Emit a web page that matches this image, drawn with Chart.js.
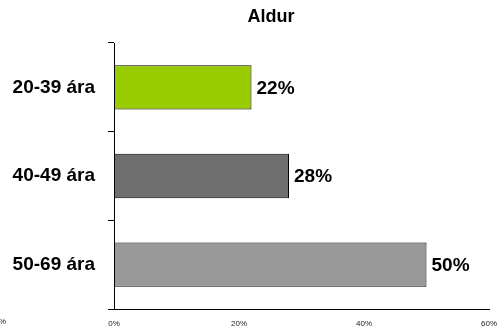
<!DOCTYPE html>
<html>
<head>
<meta charset="utf-8">
<script src="https://cdn.jsdelivr.net/npm/chart.js@4.4.1/dist/chart.umd.min.js"></script>
<style>
  html, body { margin: 0; padding: 0; background: #fff; }
  #wrap { width: 497px; height: 330px; position: relative; }
</style>
</head>
<body>
<div id="wrap"><canvas id="ageChart"></canvas></div>
<script>
const categories = ['20-39 ára', '40-49 ára', '50-69 ára'];
const values = [22, 28, 50];
const barColors = ['#99cc00', '#6e6e6e', '#999999'];
const xTicks = [0, 20, 40, 60];
const chartTitle = 'Aldur';

const fam = '"Liberation Sans", Arial, sans-serif';

// title, value labels and the stray clipped tick text
const extras = {
  id: 'extras',
  afterDatasetsDraw(chart) {
    const ctx = chart.ctx;
    ctx.save();
    ctx.fillStyle = '#000';
    ctx.font = 'bold 18px ' + fam;
    ctx.textAlign = 'center';
    ctx.textBaseline = 'middle';
    ctx.fillText(chartTitle, 271, 17);

    ctx.font = 'bold 19px ' + fam;
    ctx.textAlign = 'left';
    chart.getDatasetMeta(0).data.forEach((bar, i) => {
      ctx.fillText(values[i] + '%', bar.x + 5, bar.y + 1);
    });

    ctx.font = '8px ' + fam;
    ctx.fillStyle = '#222';
    ctx.fillText('%', -1, 322);
    ctx.restore();
  }
};

new Chart(document.getElementById('ageChart'), {
  type: 'bar',
  data: {
    labels: categories,
    datasets: [{
      data: values,
      backgroundColor: barColors,
      borderColor: '#000',
      borderWidth: 1,
      borderSkipped: false,
      categoryPercentage: 0.5,
      barPercentage: 1
    }]
  },
  options: {
    indexAxis: 'y',
    responsive: true,
    maintainAspectRatio: false,
    animation: false,
    layout: { padding: { top: 43, right: 8, left: 0, bottom: 0 } },
    plugins: {
      legend: { display: false },
      tooltip: { enabled: false }
    },
    scales: {
      x: {
        min: 0,
        max: 60,
        afterBuildTicks(axis) { axis.ticks = xTicks.map(v => ({ value: v })); },
        afterFit(axis) {
          axis.height = 21;
          axis.paddingLeft = 0;
          axis.paddingRight = 0;
        },
        grid: { display: false },
        border: { display: true, color: '#000', width: 1 },
        ticks: {
          callback: v => v + '%',
          color: '#222',
          font: { family: fam, size: 8 },
          padding: 2,
          maxRotation: 0
        }
      },
      y: {
        offset: true,
        afterFit(axis) {
          axis.width = 114;
          axis.paddingTop = 0;
          axis.paddingBottom = 0;
        },
        grid: {
          offset: true,
          drawOnChartArea: false,
          drawTicks: true,
          tickLength: 6,
          color: '#000'
        },
        border: { display: true, color: '#000', width: 1 },
        ticks: {
          color: '#000',
          font: { family: fam, size: 19, weight: 'bold' },
          padding: 13
        }
      }
    }
  },
  plugins: [extras]
});
</script>
</body>
</html>
